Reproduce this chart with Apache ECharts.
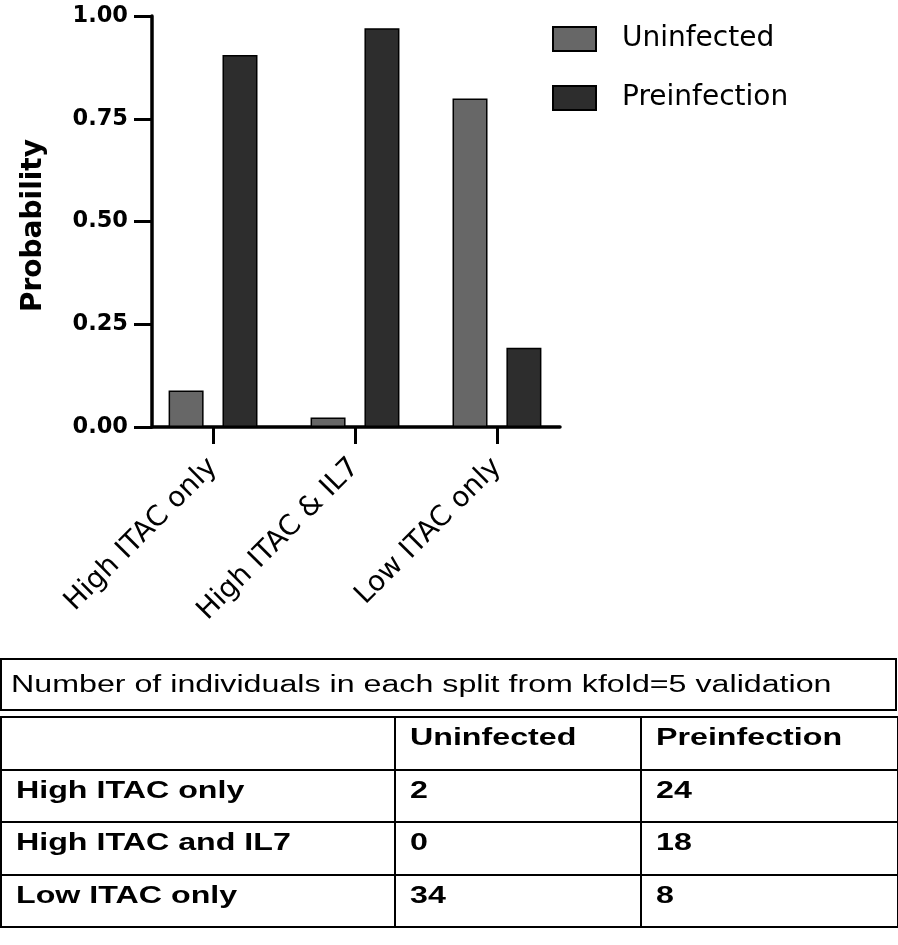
<!DOCTYPE html>
<html><head><meta charset="utf-8">
<script src="https://cdn.jsdelivr.net/npm/echarts@6/dist/echarts.min.js"></script>
<style>
html,body{margin:0;padding:0;background:#fff;}
#chart{position:absolute;left:0;top:0;width:898px;height:945px;}
#titlebox{position:absolute;left:0;top:658px;width:897px;height:53px;box-sizing:border-box;border:2.5px solid #000;display:flex;align-items:center;padding-left:9px;font:23.5px 'Liberation Sans',Arial,sans-serif;color:#000;}
.sx{display:inline-block;transform:scaleX(1.37);transform-origin:0 50%;white-space:nowrap;}
#tbl{position:absolute;left:0;top:716px;width:897px;border-collapse:collapse;table-layout:fixed;}
#tbl td{border:2px solid #000;height:52.5px;box-sizing:border-box;padding:4px 0 0 14px;font:bold 23.5px 'Liberation Sans',Arial,sans-serif;color:#000;vertical-align:top;line-height:30px;}
</style></head><body>
<div id="chart"></div>
<div id="titlebox"></div>
<table id="tbl"><colgroup><col style="width:394px"><col style="width:246px"><col style="width:257px"></colgroup><tbody></tbody></table>
<script>
const categories = ['High ITAC only', 'High ITAC & IL7', 'Low ITAC only'];
const seriesNames = ['Uninfected', 'Preinfection'];
const uninfected = [0.089, 0.023, 0.799];
const preinfection = [0.905, 0.970, 0.193];
const yTickLabels = ['0.00', '0.25', '0.50', '0.75', '1.00'];
const tableTitle = 'Number of individuals in each split from kfold=5 validation';
const tableHeader = ['', 'Uninfected', 'Preinfection'];
const tableRowLabels = ['High ITAC only', 'High ITAC and IL7', 'Low ITAC only'];
const tableUninfected = [2, 0, 34];
const tablePreinfection = [24, 18, 8];

const catIdx = categories.map((c, i) => i);
const chart = echarts.init(document.getElementById('chart'), null, {renderer: 'canvas'});
const font = 'DejaVu Sans';
chart.setOption({
  animation: false,
  backgroundColor: '#fff',
  grid: {left: 152, right: 338, top: 16, bottom: 518, containLabel: false},
  legend: {
    orient: 'vertical', left: 552, top: 25, padding: 0,
    itemWidth: 43, itemHeight: 24, itemGap: 31, icon: 'rect',
    textStyle: {fontFamily: font, fontSize: 28, color: '#000', padding: [0, 0, 0, 21]},
    data: seriesNames
  },
  xAxis: {
    type: 'value', min: -0.43, max: 2.444,
    splitLine: {show: false},
    axisLine: {lineStyle: {color: '#000', width: 3.5}},
    axisTick: {show: true, customValues: catIdx, length: 17, lineStyle: {color: '#000', width: 3}},
    axisLabel: {
      customValues: catIdx, rotate: 45, margin: 36,
      formatter: v => categories[Math.round(v)] || '',
      fontFamily: font, fontSize: 28, color: '#000'
    }
  },
  yAxis: {
    type: 'value', min: 0, max: 1, interval: 0.25,
    name: 'Probability', nameLocation: 'middle', nameRotate: 90, nameGap: 104,
    nameTextStyle: {fontFamily: font, fontSize: 28, fontWeight: 'bold', color: '#000', padding: [0, 8, 0, 0]},
    splitLine: {show: false},
    axisLine: {onZero: false, lineStyle: {color: '#000', width: 3.5}},
    axisTick: {length: 18, lineStyle: {color: '#000', width: 3}},
    axisLabel: {
      margin: 24, fontFamily: font, fontSize: 22.5, fontWeight: 'bold', color: '#000',
      formatter: v => yTickLabels[Math.round(v / 0.25)]
    }
  },
  series: [
    {name: seriesNames[0], type: 'bar', barWidth: 35, barGap: '54%',
     itemStyle: {color: '#676767', borderColor: '#000', borderWidth: 1.5},
     data: uninfected.map((v, i) => [i, v])},
    {name: seriesNames[1], type: 'bar', barWidth: 35, barGap: '54%',
     itemStyle: {color: '#2d2d2d', borderColor: '#000', borderWidth: 1.5},
     data: preinfection.map((v, i) => [i, v])}
  ]
});

document.getElementById('titlebox').innerHTML = '<span class="sx">' + tableTitle + '</span>';
const tbody = document.querySelector('#tbl tbody');
const rows = [tableHeader].concat(tableRowLabels.map((r, i) => [r, tableUninfected[i], tablePreinfection[i]]));
rows.forEach(r => {
  const tr = document.createElement('tr');
  r.forEach(c => {
    const td = document.createElement('td');
    td.innerHTML = '<span class="sx">' + c + '</span>';
    tr.appendChild(td);
  });
  tbody.appendChild(tr);
});
</script>
</body></html>
